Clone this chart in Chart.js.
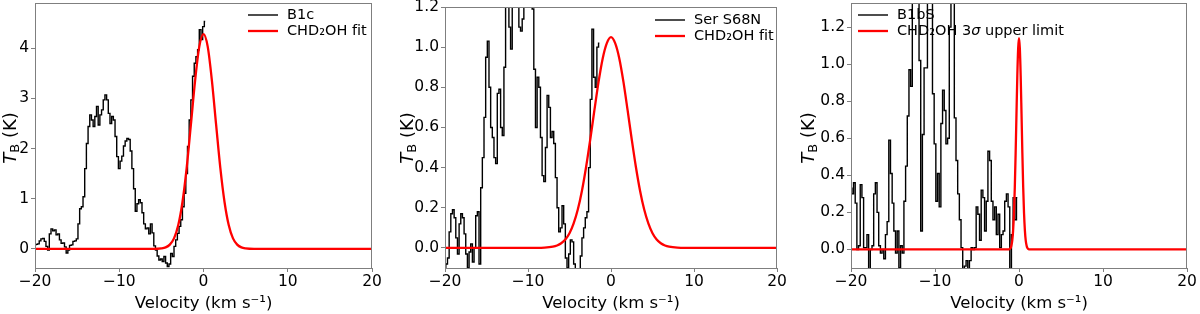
<!DOCTYPE html>
<html>
<head>
<meta charset="utf-8">
<script src="https://cdn.jsdelivr.net/npm/chart.js@4/dist/chart.umd.min.js"></script>
<style>
  html, body { margin: 0; padding: 0; background: #fff; }
  #wrap { position: relative; width: 1200px; height: 314px; overflow: hidden; }
  canvas { position: absolute; top: 0; }
</style>
</head>
<body>
<div id="wrap">
  <canvas id="c1" width="400" height="314" style="left:0px"></canvas>
  <canvas id="c2" width="400" height="314" style="left:400px"></canvas>
  <canvas id="c3" width="400" height="314" style="left:800px"></canvas>
</div>
<script>
// ---- channel velocities (km/s) ----
const VEL = [-20.0,-19.8,-19.6,-19.4,-19.2,-19.0,-18.8,-18.6,-18.4,-18.2,
  -18.0,-17.8,-17.6,-17.4,-17.2,-17.0,-16.8,-16.6,-16.4,-16.2,
  -16.0,-15.8,-15.6,-15.4,-15.2,-15.0,-14.8,-14.6,-14.4,-14.2,
  -14.0,-13.8,-13.6,-13.4,-13.2,-13.0,-12.8,-12.6,-12.4,-12.2,
  -12.0,-11.8,-11.6,-11.4,-11.2,-11.0,-10.8,-10.6,-10.4,-10.2,
  -10.0,-9.8,-9.6,-9.4,-9.2,-9.0,-8.8,-8.6,-8.4,-8.2,
  -8.0,-7.8,-7.6,-7.4,-7.2,-7.0,-6.8,-6.6,-6.4,-6.2,
  -6.0,-5.8,-5.6,-5.4,-5.2,-5.0,-4.8,-4.6,-4.4,-4.2,
  -4.0,-3.8,-3.6,-3.4,-3.2,-3.0,-2.8,-2.6,-2.4,-2.2,
  -2.0,-1.8,-1.6,-1.4,-1.2,-1.0,-0.8,-0.6,-0.4,-0.2,
  0.0,0.2];

// ---- observed spectra (K) ----
const B1C = [0.08,0.09,0.1,0.16,0.2,0.21,0.15,0.05,-0.02,0.3,
  0.4,0.36,0.38,0.28,0.3,0.18,0.11,0.12,0.04,-0.08,
  -0.02,0.07,0.08,0.15,0.16,0.2,0.5,0.8,0.84,1.04,
  1.6,2.1,2.44,2.67,2.57,2.44,2.64,2.84,2.47,2.67,
  2.77,2.97,3.07,2.97,2.7,2.5,2.64,2.57,2.24,1.84,
  1.6,1.75,1.85,2.05,2.15,2.2,2.18,1.95,1.6,1.2,
  0.75,0.9,0.98,0.92,0.72,0.5,0.4,0.42,0.3,0.5,
  0.32,0.06,-0.02,-0.14,-0.22,-0.2,-0.25,-0.15,-0.28,-0.35,
  -0.3,-0.09,-0.15,0.05,0.18,0.31,0.45,0.58,0.84,1.11,
  1.5,2.04,2.57,2.97,3.44,3.7,3.83,3.97,4.37,4.17,
  4.43,4.53];

const S68N = [-0.1,-0.08,-0.05,0.08,0.17,0.19,0.15,0.05,-0.03,0.12,
  0.17,0.15,0.07,-0.03,-0.1,-0.02,0.02,-0.07,0.0,0.16,
  0.18,-0.08,0.3,0.45,0.65,0.95,1.03,0.8,0.6,0.55,
  0.45,0.42,0.77,0.79,0.6,0.56,0.9,1.25,1.3,1.1,
  0.99,1.3,1.35,1.3,1.3,1.1,1.08,1.14,1.3,1.3,
  1.28,1.3,1.22,1.19,0.89,0.6,0.85,0.8,0.55,0.36,
  0.33,0.5,0.76,0.7,0.55,0.58,0.52,0.35,0.2,0.08,
  0.1,0.21,0.12,-0.05,-0.1,-0.03,0.04,0.03,-0.08,-0.12,
  -0.12,-0.12,-0.04,0.05,0.1,0.15,0.18,0.4,0.74,1.09,
  0.85,0.8,1.0,1.02];

const B1BS = [0.33,0.3,0.36,0.25,0.0,0.02,0.35,0.28,0.01,0.01,
  0.08,-0.11,0.0,0.02,0.3,0.36,0.2,0.02,-0.02,0.0,
  -0.05,0.08,0.15,0.59,0.41,0.25,0.1,-0.02,0.1,-0.1,
  0.02,-0.02,0.26,0.45,0.72,0.97,0.88,1.4,1.5,1.45,
  1.4,1.02,0.1,0.62,0.98,0.98,1.4,1.5,1.35,0.84,
  0.57,0.26,0.41,0.23,0.68,0.86,0.75,0.57,0.6,1.2,
  1.4,1.35,0.71,0.48,0.3,0.16,0.01,-0.11,-0.09,-0.06,
  -0.11,-0.06,0.01,0.0,0.01,0.23,0.19,0.05,0.32,0.28,
  0.1,0.26,0.53,0.48,0.26,0.16,0.23,0.08,0.19,0.01,
  0.08,0.1,0.26,0.3,0.23,-0.11,0.08,0.28,0.16,0.28];

// ---- CHD2OH model curves ----
const FIT1_V = [-20,-6,-5,-4.5,-4,-3.5,-3,-2.5,-2,-1.5,-1,-0.5,0,0.5,1,1.5,2,2.5,3,3.5,4,4.5,5,6,20];
const FIT1_T = [0,0,0.01,0.03,0.086,0.21,0.47,0.93,1.61,2.47,3.35,4.03,4.28,4.03,3.35,2.47,1.61,0.93,0.47,0.21,0.086,0.03,0.01,0,0];

const FIT2_V = [-20,-9,-8,-7,-6.5,-6,-5.5,-5,-4.5,-4,-3.5,-3,-2.5,-2,-1.5,-1,-0.5,0,0.5,1,1.5,2,2.5,3,3.5,4,4.5,5,5.5,6,6.5,7,8,9,20];
const FIT2_T = [0,0,0.001,0.006,0.012,0.023,0.042,0.073,0.122,0.191,0.285,0.403,0.54,0.686,0.827,0.944,1.02,1.05,1.02,0.944,0.827,0.686,0.54,0.403,0.285,0.191,0.122,0.073,0.042,0.023,0.012,0.006,0.001,0,0];

const FIT3_V = [-20,-1.5,-1.2,-1.0,-0.9,-0.8,-0.7,-0.6,-0.5,-0.4,-0.3,-0.2,-0.1,0,0.1,0.2,0.3,0.4,0.5,0.6,0.7,0.8,0.9,1.0,1.2,1.5,20];
const FIT3_T = [0,0,0.001,0.008,0.022,0.049,0.103,0.195,0.335,0.521,0.733,0.937,1.085,1.14,1.085,0.937,0.733,0.521,0.335,0.195,0.103,0.049,0.022,0.008,0.001,0,0];

// ---- labels ----
const X_TICKS = [-20, -10, 0, 10, 20];
const X_TITLE = 'Velocity (km s\u207B\u00B9)';
const Y_TITLE_MAIN = 'T';
const Y_TITLE_SUB = 'B';
const Y_TITLE_REST = ' (K)';
const SOURCES = ['B1c', 'Ser S68N', 'B1bS'];
const FIT_LABELS = ['CHD\u2082OH fit', 'CHD\u2082OH fit', 'CHD\u2082OH 3\u03C3 upper limit'];

const FONT = 'DejaVu Sans';
const MINUS = '\u2212';

function pts(vs, ts) { return ts.map((t, i) => ({ x: vs[i], y: t })); }

function drawRich(ctx, text, x, y, size) {
  let cx = x;
  for (const ch of text) {
    ctx.font = (ch === '\u03C3' ? 'italic ' : '') + size + 'px "' + FONT + '"';
    ctx.fillText(ch, cx, y);
    cx += ctx.measureText(ch).width;
  }
}

const decorPlugin = {
  id: 'decor',
  afterDraw(chart, args, opts) {
    const ctx = chart.ctx;
    const a = chart.chartArea;
    ctx.save();
    ctx.strokeStyle = '#7f7f7f';
    ctx.lineWidth = 1;
    ctx.strokeRect(Math.round(a.left) + 0.5, Math.round(a.top) + 0.5,
                   Math.round(a.right - a.left) - 1, Math.round(a.bottom - a.top));
    ctx.textBaseline = 'middle';
    ctx.textAlign = 'left';
    chart.data.datasets.forEach((ds) => {
      const y = opts.legendY + ds.legendRow * 16;
      ctx.strokeStyle = ds.borderColor;
      ctx.lineWidth = ds.legendWidth;
      ctx.beginPath();
      ctx.moveTo(opts.legendX, y);
      ctx.lineTo(opts.legendX + 30, y);
      ctx.stroke();
      ctx.fillStyle = '#000';
      drawRich(ctx, ds.label, opts.legendX + 39, y, 14.5);
    });
    ctx.translate(opts.yTitleX, opts.yTitleY);
    ctx.rotate(-Math.PI / 2);
    ctx.fillStyle = '#000';
    ctx.textBaseline = 'middle';
    const big = 18, small = 13;
    ctx.font = 'italic ' + big + 'px "' + FONT + '"';
    const wT = ctx.measureText(Y_TITLE_MAIN).width;
    ctx.font = small + 'px "' + FONT + '"';
    const wB = ctx.measureText(Y_TITLE_SUB).width;
    ctx.font = big + 'px "' + FONT + '"';
    const wR = ctx.measureText(Y_TITLE_REST).width;
    let sx = -(wT + wB + wR) / 2;
    ctx.font = 'italic ' + big + 'px "' + FONT + '"';
    ctx.fillText(Y_TITLE_MAIN, sx, 0);
    sx += wT;
    ctx.font = small + 'px "' + FONT + '"';
    ctx.fillText(Y_TITLE_SUB, sx, 5);
    sx += wB;
    ctx.font = big + 'px "' + FONT + '"';
    ctx.fillText(Y_TITLE_REST, sx, 0);
    ctx.restore();
  }
};

function noPad(s) { s.paddingTop = 0; s.paddingBottom = 0; s.paddingLeft = 0; s.paddingRight = 0; }

function makeChart(id, cfg) {
  const fmt = (v) => (cfg.dec ? Number(v).toFixed(cfg.dec) : String(v)).replace('-', MINUS);
  return new Chart(document.getElementById(id), {
    type: 'line',
    data: {
      datasets: [
        { label: cfg.src, data: pts(VEL, cfg.spec), borderColor: '#000000', borderWidth: 1.4,
          stepped: 'middle', pointRadius: 0, fill: false, order: 1, legendRow: 0, legendWidth: 1.4 },
        { label: cfg.fitLabel, data: pts(cfg.fitV, cfg.fitT), borderColor: '#ff0000', borderWidth: 2.3,
          cubicInterpolationMode: 'monotone', pointRadius: 0, fill: false, order: 0, legendRow: 1, legendWidth: 2.3 }
      ]
    },
    options: {
      responsive: false,
      animation: false,
      events: [],
      layout: { padding: { top: cfg.top, right: cfg.right, left: 0, bottom: 0 } },
      plugins: {
        legend: { display: false },
        tooltip: { enabled: false },
        decor: { legendX: cfg.legX, legendY: cfg.legY, yTitleX: cfg.ytx, yTitleY: 138 }
      },
      scales: {
        x: {
          type: 'linear', min: -20, max: 20,
          afterBuildTicks: (s) => { s.ticks = X_TICKS.map(v => ({ value: v })); },
          ticks: { callback: (v) => String(v).replace('-', MINUS), color: '#000', font: { family: FONT, size: 15.5 },
                   padding: 1, maxRotation: 0, autoSkip: false },
          grid: { drawOnChartArea: false, drawTicks: true, tickLength: 4, color: '#7f7f7f' },
          border: { display: false },
          title: { display: true, text: X_TITLE, color: '#000', font: { family: FONT, size: 16.5 }, padding: 0 },
          afterFit: (s) => { s.height = 46; noPad(s); }
        },
        y: {
          type: 'linear', min: cfg.ymin, max: cfg.ymax,
          ticks: { stepSize: cfg.step, includeBounds: false, callback: fmt, color: '#000',
                   font: { family: FONT, size: 15.5 }, padding: 2, autoSkip: false },
          grid: { drawOnChartArea: false, drawTicks: true, tickLength: 4, color: '#7f7f7f' },
          border: { display: false },
          afterFit: (s) => { s.width = cfg.yw; noPad(s); }
        }
      }
    },
    plugins: [decorPlugin]
  });
}

makeChart('c1', { src: SOURCES[0], fitLabel: FIT_LABELS[0], spec: B1C, fitV: FIT1_V, fitT: FIT1_T,
  ymin: -0.38, ymax: 4.9, step: 1, dec: 0, top: 3, right: 28, yw: 35, legX: 248, legY: 15, ytx: 11 });
makeChart('c2', { src: SOURCES[1], fitLabel: FIT_LABELS[1], spec: S68N, fitV: FIT2_V, fitT: FIT2_T,
  ymin: -0.1, ymax: 1.2, step: 0.2, dec: 1, top: 7, right: 23, yw: 45, legX: 255, legY: 20, ytx: 8 });
makeChart('c3', { src: SOURCES[2], fitLabel: FIT_LABELS[2], spec: B1BS, fitV: FIT3_V, fitT: FIT3_T,
  ymin: -0.1, ymax: 1.33, step: 0.2, dec: 1, top: 3, right: 13, yw: 51, legX: 58, legY: 15, ytx: 9 });
</script>
</body>
</html>
